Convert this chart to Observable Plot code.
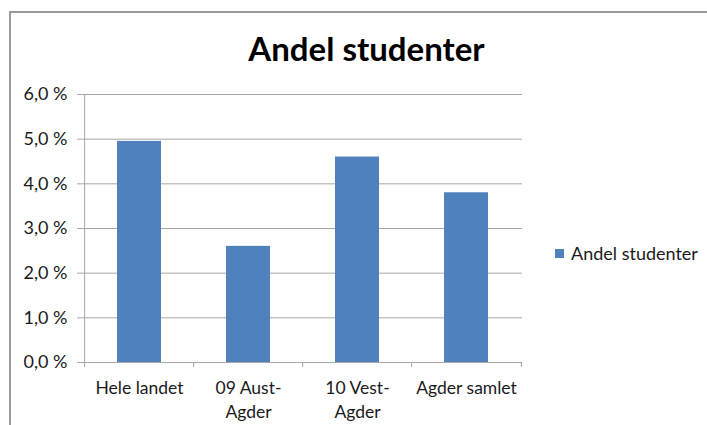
<!DOCTYPE html>
<html>
<head>
<meta charset="utf-8">
<script src="https://cdn.jsdelivr.net/npm/d3@7"></script>
<script src="https://cdn.jsdelivr.net/npm/@observablehq/plot@0.6"></script>
<style>
  html, body { margin: 0; padding: 0; background: #fff; }
  #wrap { position: relative; width: 707px; height: 425px; overflow: hidden; font-family: Lato, "Open Sans", sans-serif; }
  #frame { position: absolute; left: 9px; top: 11px; width: 720px; height: 440px; border-left: 2px solid #9a9a9a; border-top: 2px solid #9a9a9a; }
  #title { position: absolute; left: 0; top: 28px; width: 733px; text-align: center; font-size: 33px; font-weight: bold; color: #000; }
  #chart { position: absolute; left: 0; top: 0; }
  #legend { position: absolute; left: 555px; top: 242px; font-size: 18px; color: #1a1a1a; white-space: nowrap; display: flex; align-items: center; }
  #legend .sw { width: 9px; height: 9px; background: #4f81bd; margin-right: 7px; }
</style>
</head>
<body>
<div id="wrap">
  <div id="frame"></div>
  <div id="title">Andel studenter</div>
  <div id="chart"></div>
  <div id="legend"><span class="sw"></span><span id="legtext"></span></div>
</div>
<script>
const categories = ["Hele landet", "09 Aust-Agder", "10 Vest-Agder", "Agder samlet"];
const tickLabels = ["Hele landet", "09 Aust-\nAgder", "10 Vest-\nAgder", "Agder samlet"];
const values = [0.0495, 0.026, 0.046, 0.038];
const yTicks = [0, 0.01, 0.02, 0.03, 0.04, 0.05, 0.06];
const seriesName = "Andel studenter";

const data = categories.map((c, i) => ({category: c, value: values[i]}));

const W = 707, H = 425;
const mL = 83, mR = 185, mT = 94, mB = 63;
const plotW = W - mL - mR, plotH = H - mT - mB;
const step = plotW / categories.length;

const fmt = d => (d * 100).toFixed(1).replace(".", ",") + " %";
const labelOf = c => tickLabels[categories.indexOf(c)];

const chart = Plot.plot({
  width: W,
  height: H,
  marginLeft: mL,
  marginRight: mR,
  marginTop: mT,
  marginBottom: mB,
  style: {fontFamily: "Lato, 'Open Sans', sans-serif", fontSize: "17.5px", color: "#1a1a1a", background: "transparent"},
  x: {domain: categories, paddingInner: 0.6, paddingOuter: 0.3, axis: null},
  y: {domain: [0, 0.06], axis: null},
  marks: [
    Plot.gridY(yTicks, {stroke: "#a6a6a6", strokeOpacity: 1, strokeWidth: 1}),
    Plot.barY(data, {x: "category", y: "value", fill: "#4f81bd"}),
    Plot.ruleY([0], {stroke: "#a6a6a6", strokeWidth: 1}),
    Plot.ruleX([categories[0]], {stroke: "#a6a6a6", strokeWidth: 1, dx: -step / 2}),
    Plot.axisY({ticks: yTicks, tickFormat: fmt, tickSize: 6, tickPadding: 10, stroke: "#a6a6a6", fill: "#1a1a1a", fontSize: 18, label: null}),
    Plot.tickX(categories, {x: d => d, dx: -step / 2, stroke: "#a6a6a6", insetTop: plotH, insetBottom: -5}),
    Plot.tickX([categories[categories.length - 1]], {x: d => d, dx: step / 2, stroke: "#a6a6a6", insetTop: plotH, insetBottom: -5}),
    Plot.axisX({tickSize: 0, tickPadding: 14, tickFormat: labelOf, fill: "#1a1a1a", fontSize: 17.5, lineHeight: 1.4, label: null})
  ]
});
document.getElementById("chart").appendChild(chart);
document.getElementById("legtext").textContent = seriesName;
</script>
</body>
</html>
